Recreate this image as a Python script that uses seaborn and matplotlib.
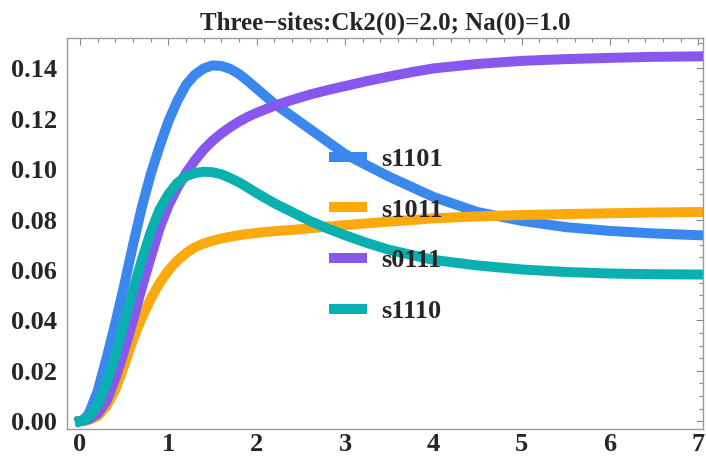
import pandas as pd
import seaborn as sns
import matplotlib.pyplot as plt
from matplotlib.ticker import MultipleLocator

# values
t = [0, 0.05, 0.1, 0.2, 0.3, 0.4, 0.5, 0.6, 0.7, 0.8, 0.9, 1.0, 1.1, 1.2, 1.3, 1.4,
     1.5, 1.6, 1.7, 1.8, 1.9, 2.0, 2.2, 2.4, 2.6, 2.8, 3.0, 3.25, 3.5, 3.75,
     4.0, 4.5, 5.0, 5.5, 6.0, 6.5, 7.0]
s1101 = [0, 0.0008, 0.003, 0.012, 0.025, 0.039, 0.054, 0.070, 0.085, 0.098, 0.109, 0.119,
         0.127, 0.1335, 0.1375, 0.140, 0.1412, 0.141, 0.1398, 0.1378, 0.135, 0.132,
         0.126, 0.121, 0.116, 0.111, 0.106, 0.1015, 0.097, 0.093,
         0.089, 0.083, 0.0795, 0.077, 0.0755, 0.0745, 0.0738]
s1011 = [0, 0.0001, 0.0005, 0.002, 0.006, 0.0125, 0.022, 0.0325, 0.041, 0.0485, 0.0548, 0.0598,
         0.0637, 0.0667, 0.069, 0.0705, 0.0716, 0.0725, 0.0732, 0.0738, 0.0743, 0.0747,
         0.0754, 0.0759, 0.0765, 0.0772, 0.0778, 0.0785, 0.0792, 0.0798,
         0.0805, 0.0813, 0.0818, 0.0822, 0.0825, 0.0828, 0.083]
s0111 = [0, 0.0002, 0.0008, 0.003, 0.008, 0.017, 0.028, 0.040, 0.053, 0.065, 0.0765, 0.0855,
         0.0925, 0.0985, 0.1035, 0.1078, 0.1113, 0.1142, 0.1167, 0.1189, 0.1208, 0.1224,
         0.1252, 0.1275, 0.1296, 0.1314, 0.133, 0.135, 0.1368, 0.1385,
         0.140, 0.1418, 0.143, 0.1437, 0.1442, 0.1446, 0.1448]
s1110 = [0, 0.0004, 0.0015, 0.0065, 0.015, 0.026, 0.039, 0.052, 0.064, 0.075, 0.084, 0.090,
         0.0945, 0.0972, 0.0985, 0.099, 0.0988, 0.098, 0.0965, 0.0948, 0.0927, 0.0905,
         0.0865, 0.083, 0.0795, 0.0765, 0.0738, 0.0707, 0.068, 0.066,
         0.064, 0.0618, 0.0602, 0.0592, 0.0586, 0.0583, 0.0582]
labels = ["s1101", "s1011", "s0111", "s1110"]
colors = ["#3a88ee", "#fba90c", "#8858ee", "#0ab0b0"]

df = pd.concat([pd.DataFrame({"t": t, "value": v, "species": name})
                for name, v in zip(labels, [s1101, s1011, s0111, s1110])])

sns.set_style("white")
plt.rcParams["font.family"] = ["Liberation Serif", "DejaVu Serif"]
plt.rcParams["font.weight"] = "bold"

fig = plt.figure(figsize=(7.06, 4.66), dpi=100)
ax = fig.add_axes([0.095, 0.079, 0.901, 0.839])

sns.lineplot(data=df, x="t", y="value", hue="species", hue_order=labels,
             palette=colors, linewidth=7.2, sort=False, ax=ax,
             solid_capstyle="projecting", solid_joinstyle="round")

ax.set_xlim(-0.147, 7.055)
ax.set_ylim(-0.0032, 0.152)
ax.set_xlabel("")
ax.set_ylabel("")
ax.set_title("Three\u2212sites:Ck2(0)=2.0; Na(0)=1.0", fontsize=18,
             fontweight="bold", pad=6)

ax.xaxis.set_major_locator(MultipleLocator(1))
ax.xaxis.set_minor_locator(MultipleLocator(0.2))
ax.yaxis.set_major_locator(MultipleLocator(0.02))
ax.yaxis.set_minor_locator(MultipleLocator(0.005))
ax.yaxis.set_major_formatter(plt.FormatStrFormatter("%.2f"))
ax.tick_params(which="both", direction="in", top=True, right=True,
               color="#888888", width=0.8)
ax.tick_params(which="major", length=5)
ax.tick_params(which="minor", length=3)
ax.tick_params(axis="x", labelsize=19, pad=3)
ax.tick_params(axis="y", labelsize=19, pad=7)
for lab in ax.get_xticklabels() + ax.get_yticklabels():
    lab.set_fontweight("bold")
for sp in ax.spines.values():
    sp.set_color("#999999")
    sp.set_linewidth(1.0)

handles, _ = ax.get_legend_handles_labels()
ax.legend(handles, labels, loc="upper left", bbox_to_anchor=(0.399, 0.754),
          frameon=False, handlelength=1.05, handletextpad=0.75,
          labelspacing=1.03, borderpad=0,
          prop={"weight": "bold", "size": 19})

fig.savefig("out.png", dpi=100)
